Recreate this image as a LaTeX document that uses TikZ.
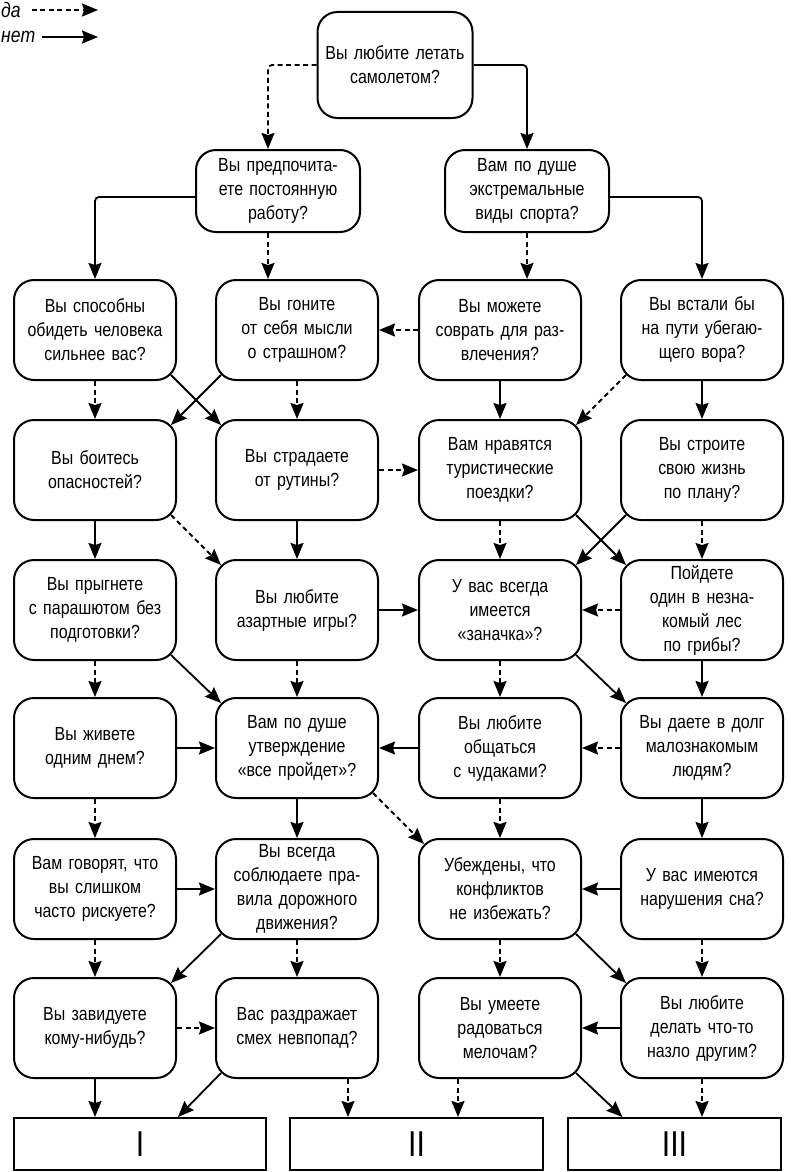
\documentclass[tikz,border=0pt]{standalone}
\usepackage{fontspec}
\setmainfont[FakeStretch=0.84]{Liberation Sans}
\usetikzlibrary{calc,arrows.meta}
\begin{document}
\begin{tikzpicture}[x=1pt,y=-1pt,
  box/.style={draw,line width=2pt,rounded corners=20pt,minimum width=162pt,minimum height=100pt,align=center,text width=156pt,font=\fontsize{19}{24}\selectfont,inner sep=2pt},
  fin/.style={draw,line width=2pt,minimum height=52pt,font=\fontsize{36}{38}\selectfont},
  arr/.style={line width=1.8pt,-{Stealth[length=16pt,width=13pt,inset=2pt]}},
  no/.style={arr},
  yes/.style={arr,dash pattern=on 5pt off 3.5pt}]
\useasboundingbox (0,0) rectangle (790,1172);
% legend
\node[font=\fontsize{21}{22}\selectfont\itshape,anchor=west,inner sep=1pt] (lda) at (0,10) {да};
\node[font=\fontsize{21}{22}\selectfont\itshape,anchor=west,inner sep=1pt] (lnet) at (0,37) {нет};
\coordinate (l1) at (98,10); \coordinate (l2) at (98,37);
\draw[yes] (lda.east) ++(10,0) -- (l1);
\draw[no] (lnet.east) ++(6,0) -- (l2);
% nodes
\node[box,minimum width=155pt,text width=148pt,minimum height=106pt] (top) at (395,65) {Вы любите летать\\самолетом?};
\node[box,minimum width=164pt,minimum height=82pt] (A) at (278,191) {Вы предпочита-\\ете постоянную\\работу?};
\node[box,minimum width=164pt,minimum height=82pt] (B) at (527,191) {Вам по душе\\экстремальные\\виды спорта?};
\def\xa{95}\def\xb{297}\def\xc{500}\def\xd{702}
\node[box] (r21) at (\xa,330) {Вы способны\\обидеть человека\\сильнее вас?};
\node[box] (r22) at (\xb,330) {Вы гоните\\от себя мысли\\о страшном?};
\node[box] (r23) at (\xc,330) {Вы можете\\соврать для раз-\\влечения?};
\node[box] (r24) at (\xd,330) {Вы встали бы\\на пути убегаю-\\щего вора?};
\node[box] (r31) at (\xa,470) {Вы боитесь\\опасностей?};
\node[box] (r32) at (\xb,470) {Вы страдаете\\от рутины?};
\node[box] (r33) at (\xc,470) {Вам нравятся\\туристические\\поездки?};
\node[box] (r34) at (\xd,470) {Вы строите\\свою жизнь\\по плану?};
\node[box] (r41) at (\xa,610) {Вы прыгнете\\с парашютом без\\подготовки?};
\node[box] (r42) at (\xb,610) {Вы любите\\азартные игры?};
\node[box] (r43) at (\xc,610) {У вас всегда\\имеется\\«заначка»?};
\node[box] (r44) at (\xd,610) {Пойдете\\один в незна-\\комый лес\\по грибы?};
\node[box] (r51) at (\xa,748) {Вы живете\\одним днем?};
\node[box] (r52) at (\xb,748) {Вам по душе\\утверждение\\«все пройдет»?};
\node[box] (r53) at (\xc,748) {Вы любите\\общаться\\с чудаками?};
\node[box] (r54) at (\xd,748) {Вы даете в долг\\малознакомым\\людям?};
\node[box] (r61) at (\xa,889) {Вам говорят, что\\вы слишком\\часто рискуете?};
\node[box] (r62) at (\xb,889) {Вы всегда\\соблюдаете пра-\\вила дорожного\\движения?};
\node[box] (r63) at (\xc,889) {Убеждены, что\\конфликтов\\не избежать?};
\node[box] (r64) at (\xd,889) {У вас имеются\\нарушения сна?};
\node[box] (r71) at (\xa,1028) {Вы завидуете\\кому-нибудь?};
\node[box] (r72) at (\xb,1028) {Вас раздражает\\смех невпопад?};
\node[box] (r73) at (\xc,1028) {Вы умеете\\радоваться\\мелочам?};
\node[box] (r74) at (\xd,1028) {Вы любите\\делать что-то\\назло другим?};
\node[fin,minimum width=252pt] (bI) at (140,1144) {I};
\node[fin,minimum width=253pt] (bII) at (416.5,1144) {II};
\node[fin,minimum width=213pt] (bIII) at (674.5,1144) {III};
% corner helpers
\def\SE#1{($(#1.south east)+(-6,-6)$)}
\def\SW#1{($(#1.south west)+(6,-6)$)}
\def\NE#1{($(#1.north east)+(-6,6)$)}
\def\NW#1{($(#1.north west)+(6,6)$)}
% top rows
\draw[yes,rounded corners=4pt] (top.west) -| ($(A.north)+(-10,0)$);
\draw[no,rounded corners=4pt] (top.east) -| (B.north);
\draw[no,rounded corners=4pt] ($(A.west)+(0,6)$) -| (r21.north);
\draw[yes] ($(A.south)+(-10,0)$) -- ($(r22.north)+(-29,0)$);
\draw[yes] (B.south) -- ($(r23.north)+(27,0)$);
\draw[no,rounded corners=4pt] ($(B.east)+(0,6)$) -| (r24.north);
% row2
\draw[yes] (r23.west) -- (r22.east);
\draw[yes] (r21.south) -- (r31.north);
\draw[no] \SE{r21} -- \NW{r32};
\draw[no] \SW{r22} -- \NE{r31};
\draw[yes] (r22.south) -- (r32.north);
\draw[no] (r23.south) -- (r33.north);
\draw[yes] \SW{r24} -- \NE{r33};
\draw[no] (r24.south) -- (r34.north);
% row3
\draw[yes] (r32.east) -- (r33.west);
\draw[no] (r31.south) -- (r41.north);
\draw[yes] \SE{r31} -- \NW{r42};
\draw[no] (r32.south) -- (r42.north);
\draw[yes] (r33.south) -- (r43.north);
\draw[no] \SE{r33} -- \NW{r44};
\draw[no] \SW{r34} -- \NE{r43};
\draw[yes] (r34.south) -- (r44.north);
% row4
\draw[no] (r42.east) -- (r43.west);
\draw[yes] (r44.west) -- (r43.east);
\draw[yes] (r41.south) -- (r51.north);
\draw[no] \SE{r41} -- \NW{r52};
\draw[yes] (r42.south) -- (r52.north);
\draw[yes] (r43.south) -- (r53.north);
\draw[no] \SE{r43} -- \NW{r54};
\draw[no] (r44.south) -- (r54.north);
% row5
\draw[no] (r51.east) -- (r52.west);
\draw[no] (r53.west) -- (r52.east);
\draw[yes] (r54.west) -- (r53.east);
\draw[yes] (r51.south) -- (r61.north);
\draw[no] (r52.south) -- (r62.north);
\draw[yes] \SE{r52} -- \NW{r63};
\draw[yes] (r53.south) -- (r63.north);
\draw[no] (r54.south) -- (r64.north);
% row6
\draw[no] (r61.east) -- (r62.west);
\draw[no] (r64.west) -- (r63.east);
\draw[yes] (r61.south) -- (r71.north);
\draw[no] \SW{r62} -- \NE{r71};
\draw[yes] (r62.south) -- (r72.north);
\draw[yes] (r63.south) -- (r73.north);
\draw[no] \SE{r63} -- \NW{r74};
\draw[yes] (r64.south) -- (r74.north);
% row7
\draw[yes] (r71.east) -- (r72.west);
\draw[no] (r74.west) -- (r73.east);
\draw[no] (r71.south) -- (r71.south |- bI.north);
\draw[no] \SW{r72} -- ($(bI.north)+(38,0)$);
\draw[yes] ($(r72.south)+(51,0)$) -- ($(bII.north)+(-68.5,0)$);
\draw[yes] ($(r73.south)+(-42,0)$) -- ($(bII.north)+(41.5,0)$);
\draw[no] \SE{r73} -- ($(bIII.north)+(-52,0)$);
\draw[yes] (r74.south) -- (r74.south |- bIII.north);
\end{tikzpicture}
\end{document}
